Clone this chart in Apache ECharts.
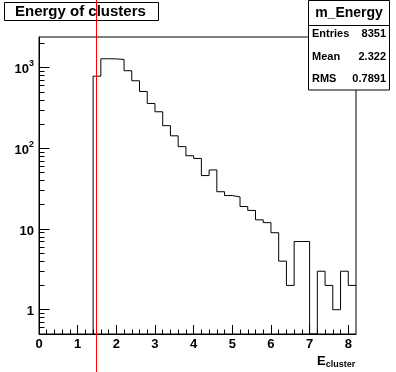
<!DOCTYPE html>
<html><head><meta charset="utf-8">
<script src="https://cdn.jsdelivr.net/npm/echarts@6/dist/echarts.min.js"></script>
<style>html,body{margin:0;padding:0;background:#fff}#c{width:396px;height:372px}</style>
</head><body><div id="c"></div>
<script>
// ---- data ----
const binLowEdges = [1.4,1.6,1.8,2.0,2.2,2.4,2.6,2.8,3.0,3.2,3.4,3.6,3.8,4.0,4.2,4.4,4.6,4.8,5.0,5.2,5.4,5.6,5.8,6.0,6.2,6.4,6.6,6.8,7.0,7.2,7.4,7.6,7.8,8.0];
const binWidth = 0.2;
const counts = [785,1289,1285,1264,916,688,507,360,284,191,143,105,81,75,46,54,29,26,25,19,17,13,12,9,4,2,7,7,0,3,2,1,3,2];
const xMajorTicks = [0,1,2,3,4,5,6,7,8];
const xMinorTicks = [0.2,0.4,0.6,0.8,1.2,1.4,1.6,1.8,2.2,2.4,2.6,2.8,3.2,3.4,3.6,3.8,4.2,4.4,4.6,4.8,5.2,5.4,5.6,5.8,6.2,6.4,6.6,6.8,7.2,7.4,7.6,7.8];
const yMajorTicks = [1,10,100,1000];
const yMinorTicks = [0.6,0.7,0.8,0.9,2,3,4,5,6,7,8,9,20,30,40,50,60,70,80,90,200,300,400,500,600,700,800,900,2000];
const xRange = [0, 8.2];
const yRange = [0.5, 2400];
const cutValue = 1.5;
const chartTitle = 'Energy of clusters';
const statsTitle = 'm_Energy';
const statsNames = ['Entries','Mean','RMS'];
const statsValues = ['8351','2.322','0.7891'];
const xTitleMain = 'E';
const xTitleSub = 'cluster';

// ---- chart ----
const F = '"Liberation Sans", Arial, Helvetica, sans-serif';
const chart = echarts.init(document.getElementById('c'), null, {renderer:'canvas'});

const yMin = yRange[0];
const stepData = [[binLowEdges[0], yMin]];
binLowEdges.forEach((x, i) => stepData.push([x, Math.max(counts[i], yMin)]));
stepData.push([binLowEdges[binLowEdges.length-1] + binWidth, Math.max(counts[counts.length-1], yMin)]);

function yLabel(v) {
  const e = Math.round(Math.log10(v));
  if (e === 0) return '{b|1}';
  if (e === 1) return '{b|10}';
  return '{b|10}{s|' + e + '}';
}

const axisTxt = {color:'#000', fontWeight:'bold', fontSize:13, fontFamily:F};

chart.setOption({
  animation: false,
  grid: {left:39, top:37, right:40, bottom:38, show:true, borderColor:'#000', borderWidth:1, backgroundColor:'transparent'},
  xAxis: [
    {type:'value', min:xRange[0], max:xRange[1], position:'bottom',
     axisLine:{show:true, lineStyle:{color:'#000', width:1}},
     splitLine:{show:false},
     axisTick:{show:true, inside:true, length:9, customValues:xMajorTicks, lineStyle:{color:'#000', width:1}},
     axisLabel:Object.assign({customValues:xMajorTicks, margin:4, formatter: v => String(v)}, axisTxt)},
    {type:'value', min:xRange[0], max:xRange[1], position:'bottom',
     axisLine:{show:false}, splitLine:{show:false},
     axisTick:{show:true, inside:true, length:4.5, customValues:xMinorTicks, lineStyle:{color:'#000', width:1}},
     axisLabel:{show:false}}
  ],
  yAxis: [
    {type:'log', logBase:10, min:yRange[0], max:yRange[1], position:'left',
     axisLine:{show:true, lineStyle:{color:'#000', width:1}},
     splitLine:{show:false},
     axisTick:{show:true, inside:true, length:10.5, customValues:yMajorTicks, lineStyle:{color:'#000', width:1}},
     axisLabel:{customValues:yMajorTicks, margin:5, formatter:yLabel,
       rich:{
         b:{color:'#000', fontWeight:'bold', fontSize:13, fontFamily:F, verticalAlign:'bottom', lineHeight:17},
         s:{color:'#000', fontWeight:'bold', fontSize:9, fontFamily:F, verticalAlign:'top', lineHeight:9}
       }}},
    {type:'log', logBase:10, min:yRange[0], max:yRange[1], position:'left',
     axisLine:{show:false}, splitLine:{show:false},
     axisTick:{show:true, inside:true, length:5.5, customValues:yMinorTicks, lineStyle:{color:'#000', width:1}},
     axisLabel:{show:false}}
  ],
  series: [{
    type:'line', xAxisIndex:0, yAxisIndex:0, step:'end', showSymbol:false, symbol:'none',
    clip:true, data:stepData,
    lineStyle:{color:'#000', width:1}, z:3
  }]
});

const cutPx = chart.convertToPixel({xAxisIndex:0}, cutValue);
const H = 372;

chart.setOption({
  graphic: [
    // title box
    {type:'rect', id:'tbox', z:50, shape:{x:4.5, y:2.5, width:154, height:18},
     style:{fill:'#fff', stroke:'#000', lineWidth:1}},
    {type:'text', id:'ttxt', z:51, x:15, y:11.5,
     style:{text:chartTitle, fill:'#000', font:'bold 15px ' + F, textAlign:'left', textVerticalAlign:'middle'}},
    // stats box
    {type:'rect', id:'sbox', z:50, shape:{x:308.5, y:0.5, width:81, height:89.5},
     style:{fill:'#fff', stroke:'#000', lineWidth:1}},
    {type:'line', id:'sdiv', z:51, shape:{x1:308.5, y1:25.5, x2:389.5, y2:25.5},
     style:{stroke:'#000', lineWidth:1}},
    {type:'text', id:'stitle', z:51, x:349, y:13.5,
     style:{text:statsTitle, fill:'#000', font:'bold 14px ' + F, textAlign:'center', textVerticalAlign:'middle'}},
    ...statsNames.map((n, i) => ({type:'text', id:'sn'+i, z:51, x:312, y:34 + i*22.5,
     style:{text:n, fill:'#000', font:'bold 11px ' + F, textAlign:'left', textVerticalAlign:'middle'}})),
    ...statsValues.map((v, i) => ({type:'text', id:'sv'+i, z:51, x:386, y:34 + i*22.5,
     style:{text:v, fill:'#000', font:'bold 11px ' + F, textAlign:'right', textVerticalAlign:'middle'}})),
    // x-axis title
    {type:'text', id:'xtitle', z:51, x:317, y:355,
     style:{text:'{e|' + xTitleMain + '}{s|' + xTitleSub + '}',
       rich:{
         e:{fill:'#000', fontWeight:'bold', fontSize:13, fontFamily:F, verticalAlign:'top', lineHeight:14},
         s:{fill:'#000', fontWeight:'bold', fontSize:9, fontFamily:F, verticalAlign:'bottom', lineHeight:10, padding:[6,0,0,0]}
       }}},
    // cut line
    {type:'line', id:'cut', z:100, shape:{x1:Math.floor(cutPx)+0.5, y1:0, x2:Math.floor(cutPx)+0.5, y2:H},
     style:{stroke:'#ff0000', lineWidth:1}}
  ]
});
</script>
</body></html>
